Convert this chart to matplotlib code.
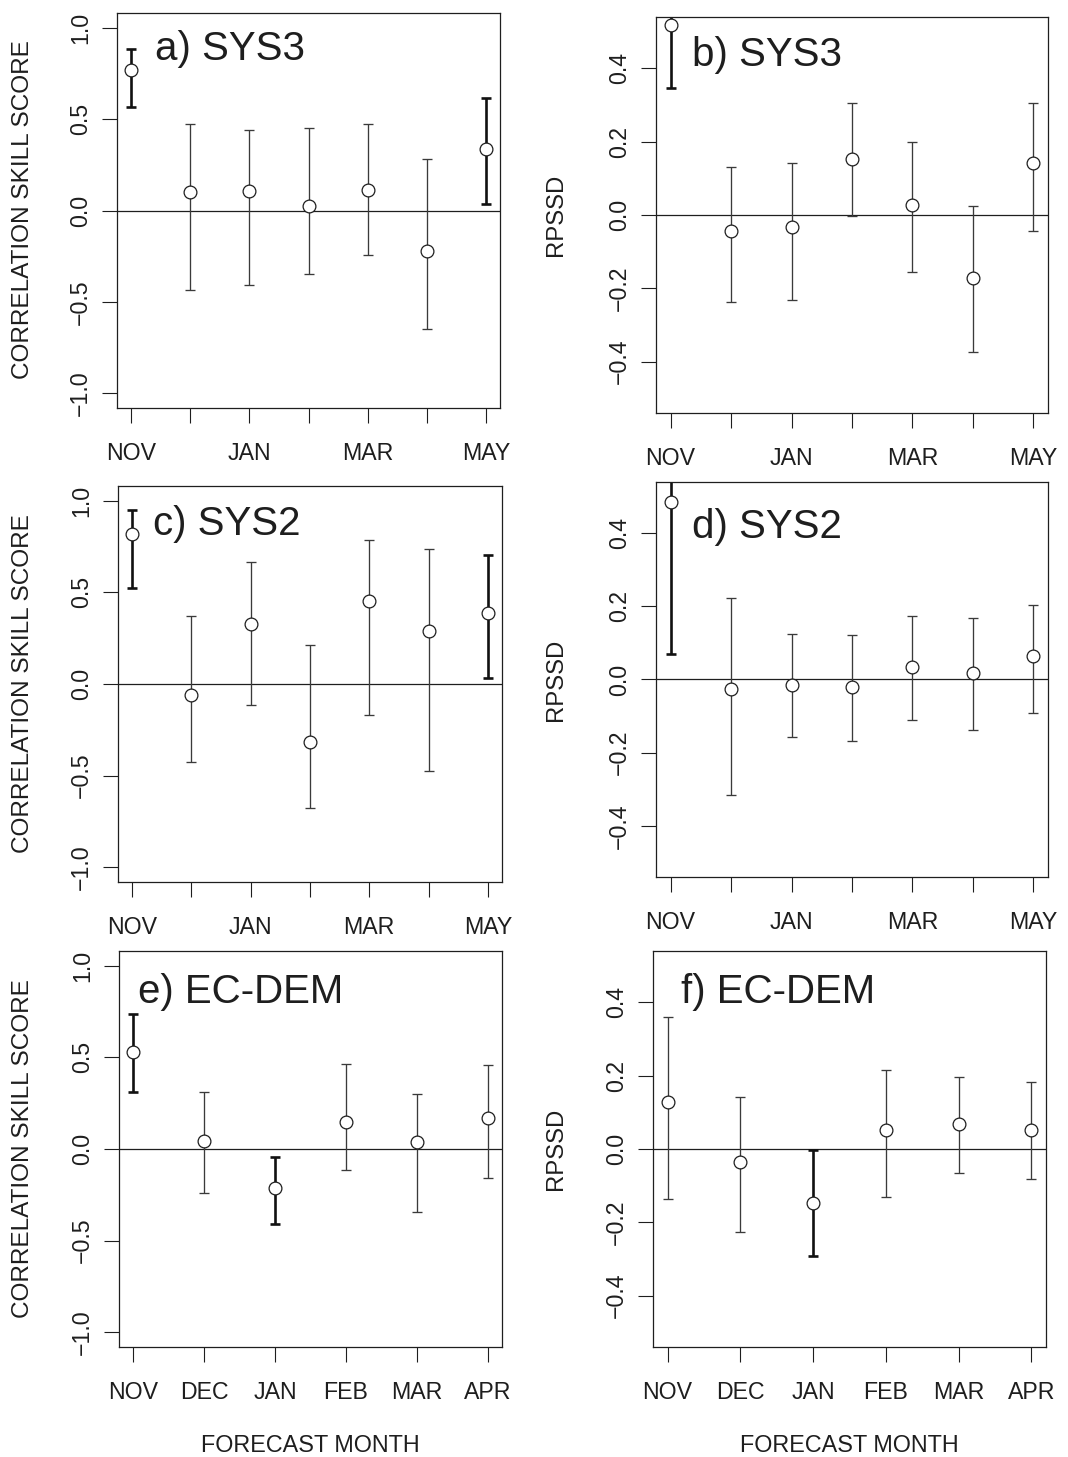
import numpy as np
import matplotlib.pyplot as plt

plt.rcParams['font.family'] = ['Liberation Sans', 'DejaVu Sans']

W, H, DPI = 1068, 1457, 100

months_7 = ['NOV', 'DEC', 'JAN', 'FEB', 'MAR', 'APR', 'MAY']
months_6 = ['NOV', 'DEC', 'JAN', 'FEB', 'MAR', 'APR']

# correlation skill score with confidence limits
acc_sys3 = [0.766, 0.103, 0.107, 0.022, 0.113, -0.223, 0.336]
acc_sys3_lo = [0.566, -0.432, -0.408, -0.347, -0.243, -0.650, 0.034]
acc_sys3_hi = [0.884, 0.472, 0.439, 0.452, 0.475, 0.283, 0.615]

acc_sys2 = [0.816, -0.062, 0.328, -0.317, 0.455, 0.288, 0.388]
acc_sys2_lo = [0.521, -0.428, -0.113, -0.678, -0.168, -0.474, 0.035]
acc_sys2_hi = [0.949, 0.370, 0.663, 0.211, 0.787, 0.736, 0.705]

acc_dem = [0.527, 0.044, -0.215, 0.149, 0.038, 0.171]
acc_dem_lo = [0.309, -0.242, -0.411, -0.115, -0.342, -0.158]
acc_dem_hi = [0.735, 0.313, -0.044, 0.462, 0.298, 0.456]

# debiased ranked probability skill score with confidence limits
rps_sys3 = [0.517, -0.044, -0.033, 0.154, 0.026, -0.172, 0.143]
rps_sys3_lo = [0.347, -0.236, -0.233, -0.003, -0.155, -0.374, -0.044]
rps_sys3_hi = [0.620, 0.132, 0.143, 0.306, 0.199, 0.025, 0.305]

rps_sys2 = [0.485, -0.026, -0.014, -0.021, 0.034, 0.017, 0.065]
rps_sys2_lo = [0.071, -0.315, -0.158, -0.169, -0.110, -0.139, -0.091]
rps_sys2_hi = [0.640, 0.224, 0.125, 0.122, 0.173, 0.168, 0.203]

rps_dem = [0.127, -0.035, -0.147, 0.053, 0.067, 0.053]
rps_dem_lo = [-0.135, -0.225, -0.292, -0.130, -0.066, -0.082]
rps_dem_hi = [0.361, 0.142, -0.002, 0.215, 0.197, 0.183]

INK = '#1e1e1e'


def px_axes(fig, left, top, right, bottom):
    return fig.add_axes([left / W, 1 - bottom / H, (right - left) / W, (bottom - top) / H])


def fmt_tick(v):
    return ('%.1f' % v).replace('-', '\u2212')


def draw_panel(ax, months, score, lo, hi, ylim, yticks, title, tpos, every_other):
    n = len(months)
    x = np.arange(1, n + 1)
    score = np.asarray(score)
    lo = np.asarray(lo)
    hi = np.asarray(hi)
    # bold bars where the interval does not include zero
    sig = (lo > 0) | (hi < 0)
    for xi, s, l, h, bold in zip(x, score, lo, hi, sig):
        lw = 1.9 if bold else 0.95
        col = '#111111' if bold else '#3a3a3a'
        ax.errorbar([xi], [s], yerr=[[s - l], [h - s]], fmt='none',
                    ecolor=col, elinewidth=lw, capsize=3.3, capthick=lw, zorder=2)
    ax.plot(x, score, 'o', mfc='white', mec=INK, mew=0.9, ms=9.2, zorder=3)
    ax.axhline(0, color=INK, lw=0.9, zorder=1)

    ext = 0.04 * (n - 1)
    ax.set_xlim(1 - ext, n + ext)
    ax.set_ylim(*ylim)
    ax.set_xticks(x)
    if every_other:
        ax.set_xticklabels([m if i % 2 == 0 else '' for i, m in enumerate(months)])
    else:
        ax.set_xticklabels(months)
    ax.set_yticks(yticks)
    ax.set_yticklabels([fmt_tick(v) for v in yticks])
    for lab in ax.get_yticklabels():
        lab.set_rotation(90)
        lab.set_va('center')
    ax.tick_params(axis='both', direction='out', length=10.8, width=0.8,
                   colors=INK, labelsize=16.7, labelcolor=INK)
    ax.tick_params(axis='x', pad=14)
    ax.tick_params(axis='y', pad=7)
    for sp in ax.spines.values():
        sp.set_color(INK)
        sp.set_linewidth(0.9)
    ax.text(tpos[0], tpos[1], title, transform=ax.transAxes, fontsize=29,
            color=INK, ha='left', va='baseline')


fig = plt.figure(figsize=(W / DPI, H / DPI), dpi=DPI)

acc_ticks = [-1.0, -0.5, 0.0, 0.5, 1.0]
rps_ticks = [-0.4, -0.2, 0.0, 0.2, 0.4]

ax_a = px_axes(fig, 117, 13, 500, 408)
draw_panel(ax_a, months_7, acc_sys3, acc_sys3_lo, acc_sys3_hi, (-1.08, 1.08),
           acc_ticks, 'a) SYS3', (0.10, 0.881), True)
ax_b = px_axes(fig, 656, 17, 1048, 413)
draw_panel(ax_b, months_7, rps_sys3, rps_sys3_lo, rps_sys3_hi, (-0.54, 0.54),
           rps_ticks, 'b) SYS3', (0.092, 0.875), True)
ax_c = px_axes(fig, 118, 486, 502, 882)
draw_panel(ax_c, months_7, acc_sys2, acc_sys2_lo, acc_sys2_hi, (-1.08, 1.08),
           acc_ticks, 'c) SYS2', (0.091, 0.876), True)
ax_d = px_axes(fig, 656, 482, 1048, 877)
draw_panel(ax_d, months_7, rps_sys2, rps_sys2_lo, rps_sys2_hi, (-0.54, 0.54),
           rps_ticks, 'd) SYS2', (0.092, 0.858), True)
ax_e = px_axes(fig, 119, 951, 502, 1347)
draw_panel(ax_e, months_6, acc_dem, acc_dem_lo, acc_dem_hi, (-1.08, 1.08),
           acc_ticks, 'e) EC-DEM', (0.05, 0.868), False)
ax_f = px_axes(fig, 653, 951, 1046, 1347)
draw_panel(ax_f, months_6, rps_dem, rps_dem_lo, rps_dem_hi, (-0.54, 0.54),
           rps_ticks, 'f) EC-DEM', (0.072, 0.868), False)

# axis titles
for yc in (210, 684, 1149):
    fig.text(23 / W, 1 - yc / H, 'CORRELATION SKILL SCORE', rotation=90,
             ha='center', va='center', fontsize=17.6, color=INK)
for yc in (215, 680, 1149):
    fig.text(556 / W, 1 - yc / H, 'RPSSD', rotation=90,
             ha='center', va='center', fontsize=17.2, color=INK)
for xc in (310, 849):
    fig.text(xc / W, 1 - 1446 / H, 'FORECAST MONTH', ha='center', va='center',
             fontsize=16.8, color=INK)

fig.savefig('out.png', dpi=DPI)
